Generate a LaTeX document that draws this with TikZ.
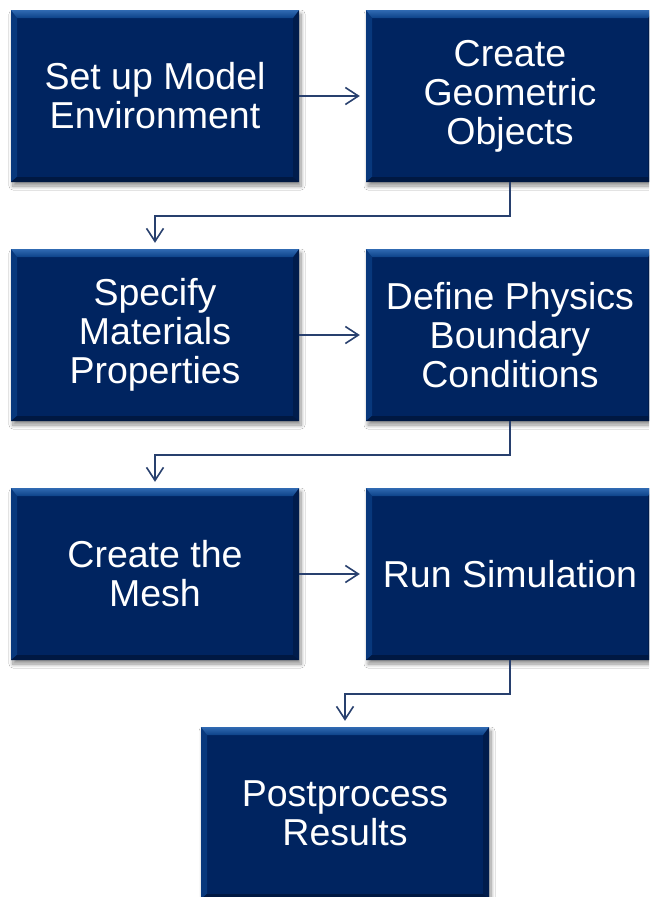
\documentclass[tikz,border=0pt]{standalone}
\usepackage{fontspec}
\setmainfont{Liberation Sans}
\usetikzlibrary{arrows.meta,shadows.blur}
\definecolor{navy}{RGB}{0,36,96}
\definecolor{navytop}{RGB}{48,106,178}
\definecolor{navytopb}{RGB}{12,66,136}
\definecolor{navyleft}{RGB}{8,56,124}
\definecolor{navyright}{RGB}{0,28,76}
\definecolor{navybot}{RGB}{0,24,66}
\definecolor{linkc}{RGB}{40,64,110}
\tikzset{
  stepbox/.style={minimum width=288pt, minimum height=172pt, inner sep=0pt,
    fill=navy, text=white, align=center,
    font=\fontsize{37.5}{39}\selectfont,
    blur shadow={shadow xshift=2pt, shadow yshift=-4pt, shadow blur steps=8, shadow blur radius=4pt, shadow opacity=45},
    path picture={
      \fill[navyleft] (path picture bounding box.north west) -- ([shift={(6pt,-8pt)}]path picture bounding box.north west) -- ([shift={(6pt,5pt)}]path picture bounding box.south west) -- (path picture bounding box.south west) -- cycle;
      \fill[navyright] (path picture bounding box.north east) -- ([shift={(-6pt,-8pt)}]path picture bounding box.north east) -- ([shift={(-6pt,5pt)}]path picture bounding box.south east) -- (path picture bounding box.south east) -- cycle;
      \fill[navybot] (path picture bounding box.south west) -- ([shift={(6pt,5pt)}]path picture bounding box.south west) -- ([shift={(-6pt,5pt)}]path picture bounding box.south east) -- (path picture bounding box.south east) -- cycle;
      \shade[top color=navytop, bottom color=navytopb] (path picture bounding box.north west) -- (path picture bounding box.north east) -- ([shift={(-6pt,-8pt)}]path picture bounding box.north east) -- ([shift={(6pt,-8pt)}]path picture bounding box.north west) -- cycle;
    }},
  link/.style={draw=linkc, line width=1.6pt, -{Straight Barb[length=13pt,width=17pt,line width=1.6pt]}, shorten >=6pt}
}
\begin{document}
\begin{tikzpicture}[x=1pt,y=-1pt]
\useasboundingbox (0,0) rectangle (649,897);
\clip (0,0) rectangle (649,897);
\fill[white] (0,0) rectangle (649,897);
\node[stepbox] (b1) at (155,96) {Set up Model\\Environment};
\node[stepbox] (b2) at (510,96) {Create\\Geometric\\Objects};
\node[stepbox] (b3) at (155,335) {Specify\\Materials\\Properties};
\node[stepbox] (b4) at (510,335) {Define Physics\\Boundary\\Conditions};
\node[stepbox] (b5) at (155,574) {Create the\\Mesh};
\node[stepbox] (b6) at (510,574) {Run Simulation};
\node[stepbox] (b7) at (345,813) {Postprocess\\Results};
\draw[link] (b1.east) -- (b2.west);
\draw[link] (b3.east) -- (b4.west);
\draw[link] (b5.east) -- (b6.west);
\draw[link] (b2.south) -- ++(0,34) -| (b3.north);
\draw[link] (b4.south) -- ++(0,34) -| (b5.north);
\draw[link] (b6.south) -- ++(0,34) -| (b7.north);
\end{tikzpicture}
\end{document}
